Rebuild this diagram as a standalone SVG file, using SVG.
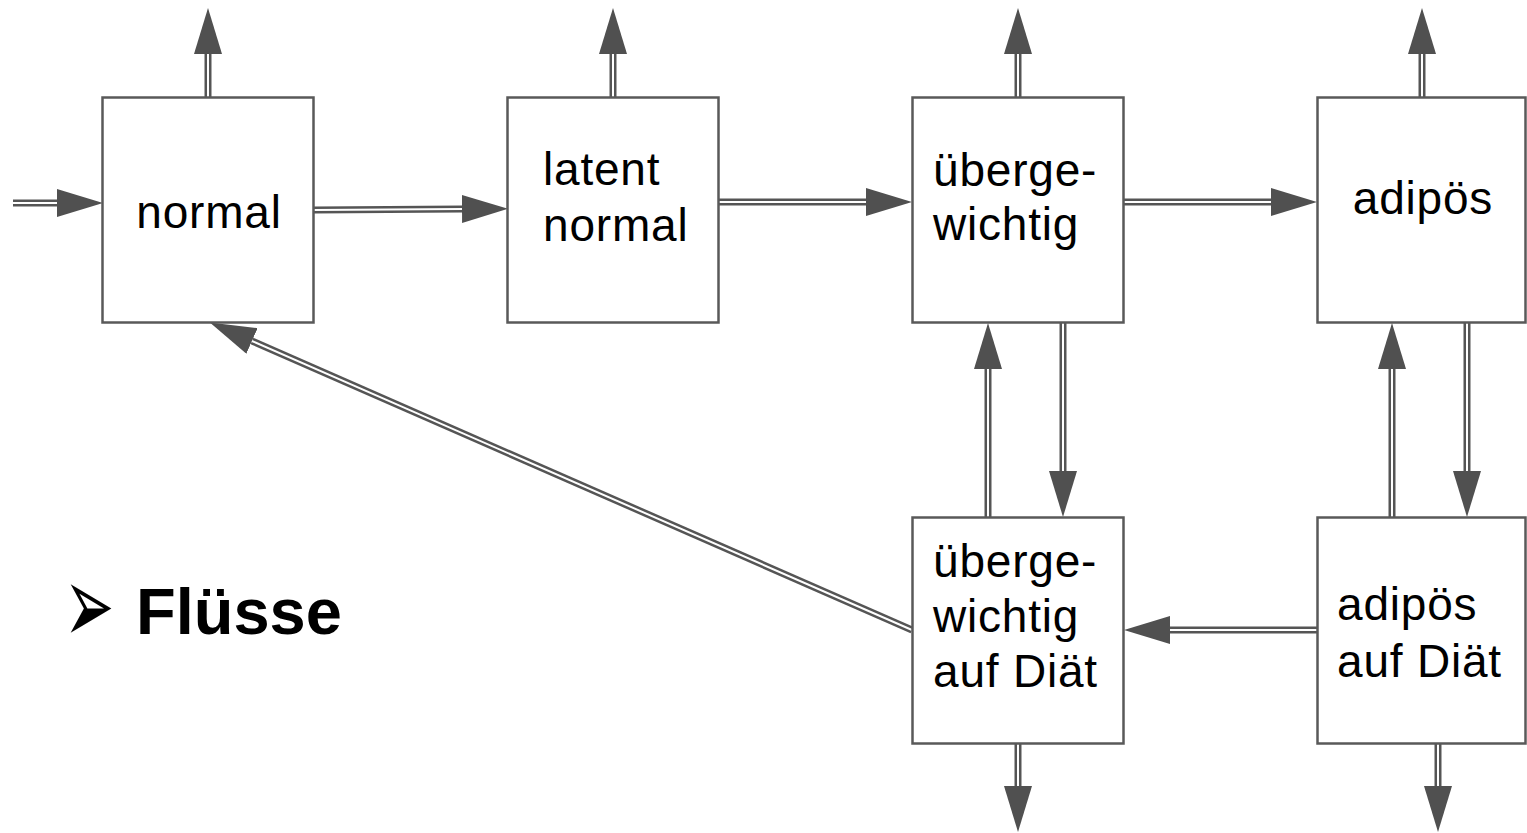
<svg xmlns="http://www.w3.org/2000/svg" width="1527" height="833" viewBox="0 0 1527 833">
<style>
.box{fill:#fff;stroke:#595959;stroke-width:2.5}
.o{fill:none;stroke:#555;stroke-width:7}
.i{fill:none;stroke:#fff;stroke-width:2}
.t{font-family:"Liberation Sans",Arial,sans-serif;font-size:46px;letter-spacing:0.8px;fill:#000}
.h{font-family:"Liberation Sans",Arial,sans-serif;font-size:65px;font-weight:bold;fill:#000}
</style>
<defs>
<marker id="ah" viewBox="0 0 46 28" refX="0" refY="14" markerWidth="46" markerHeight="28" markerUnits="userSpaceOnUse" orient="auto">
<path d="M0,0 L46,14 L0,28 z" fill="#505050"/>
</marker>
</defs>
<rect width="1527" height="833" fill="#fff"/>
<g id="connectors">
<path class="o" marker-end="url(#ah)" d="M13,203 L57,203"/><path class="i" d="M13,203 L57,203"/>
<path class="o" marker-end="url(#ah)" d="M314,210 L462,209"/><path class="i" d="M314,210 L462,209"/>
<path class="o" marker-end="url(#ah)" d="M719,202 L866,202"/><path class="i" d="M719,202 L866,202"/>
<path class="o" marker-end="url(#ah)" d="M1124,202 L1271,202"/><path class="i" d="M1124,202 L1271,202"/>
<path class="o" marker-end="url(#ah)" d="M208,97 L208,54"/><path class="i" d="M208,97 L208,54"/>
<path class="o" marker-end="url(#ah)" d="M613,97 L613,54"/><path class="i" d="M613,97 L613,54"/>
<path class="o" marker-end="url(#ah)" d="M1018,97 L1018,54"/><path class="i" d="M1018,97 L1018,54"/>
<path class="o" marker-end="url(#ah)" d="M1422,97 L1422,54"/><path class="i" d="M1422,97 L1422,54"/>
<path class="o" marker-end="url(#ah)" d="M1063,323 L1063,471"/><path class="i" d="M1063,323 L1063,471"/>
<path class="o" marker-end="url(#ah)" d="M988,517 L988,369"/><path class="i" d="M988,517 L988,369"/>
<path class="o" marker-end="url(#ah)" d="M1467,323 L1467,471"/><path class="i" d="M1467,323 L1467,471"/>
<path class="o" marker-end="url(#ah)" d="M1392,517 L1392,369"/><path class="i" d="M1392,517 L1392,369"/>
<path class="o" marker-end="url(#ah)" d="M1317,630 L1170,630"/><path class="i" d="M1317,630 L1170,630"/>
<path class="o" marker-end="url(#ah)" d="M1018,744 L1018,786"/><path class="i" d="M1018,744 L1018,786"/>
<path class="o" marker-end="url(#ah)" d="M1438,744 L1438,786"/><path class="i" d="M1438,744 L1438,786"/>
<path class="o" marker-end="url(#ah)" d="M912,630 L252,341"/><path class="i" d="M912,630 L252,341"/>
</g>
<g id="normal"><rect class="box" x="102.5" y="97.5" width="211" height="225"/><text class="t" x="209" y="228" text-anchor="middle">normal</text></g>
<g id="latent"><rect class="box" x="507.5" y="97.5" width="211" height="225"/><text class="t" x="543" y="185">latent</text><text class="t" x="543" y="241">normal</text></g>
<g id="uebergewichtig"><rect class="box" x="912.5" y="97.5" width="211" height="225"/><text class="t" x="933" y="186">überge-</text><text class="t" x="933" y="240">wichtig</text></g>
<g id="adipoes"><rect class="box" x="1317.5" y="97.5" width="208" height="225"/><text class="t" x="1423" y="214" text-anchor="middle">adipös</text></g>
<g id="uebergewichtig-diaet"><rect class="box" x="912.5" y="517.5" width="211" height="226"/><text class="t" x="933" y="577">überge-</text><text class="t" x="933" y="632">wichtig</text><text class="t" x="933" y="687">auf Diät</text></g>
<g id="adipoes-diaet"><rect class="box" x="1317.5" y="517.5" width="208" height="226"/><text class="t" x="1337" y="620">adipös</text><text class="t" x="1337" y="677">auf Diät</text></g>
<g id="title"><text transform="translate(64,611) scale(1,1.84)" x="0" y="17.5" style="font-family:'DejaVu Sans',sans-serif;font-size:60px;fill:#000">➢</text><text class="h" x="136" y="634">Flüsse</text></g>
</svg>
